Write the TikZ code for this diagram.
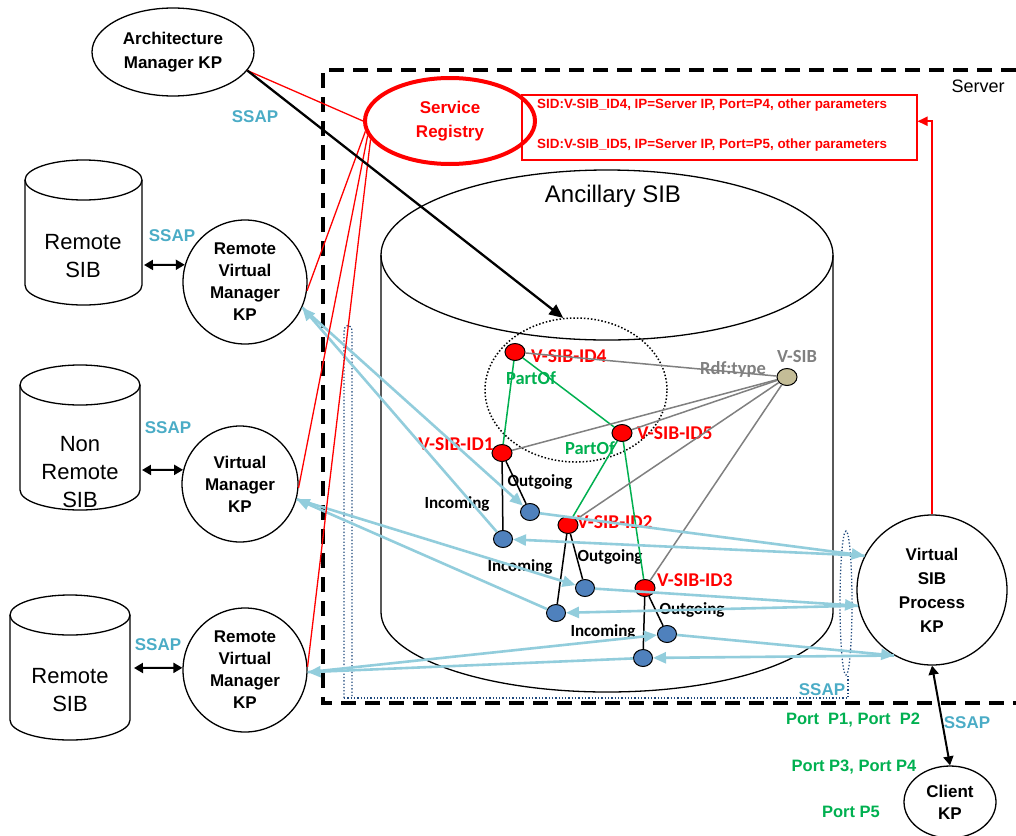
\documentclass[tikz,border=0pt]{standalone}
\usepackage{fontspec}
\setmainfont{Liberation Sans}
\newfontfamily\calfont{Carlito}
\usetikzlibrary{arrows.meta,shapes.geometric}
\definecolor{sred}{HTML}{FF0000}
\definecolor{lblue}{HTML}{92CDDC}
\definecolor{ssapc}{HTML}{4BACC6}
\definecolor{sgreen}{HTML}{00B050}
\definecolor{nblue}{HTML}{4F81BD}
\definecolor{tanc}{HTML}{C4BD97}
\definecolor{dotb}{HTML}{1F497D}
\definecolor{grayc}{HTML}{808080}
\tikzset{
 kp/.style={circle, draw, line width=1.3pt, align=center, inner sep=0pt, font=\fontsize{17}{22}\selectfont\bfseries},
 cyltext/.style={align=center, font=\fontsize{22}{28}\selectfont},
 ssap/.style={text=ssapc, font=\fontsize{17}{20}\selectfont\bfseries},
 port/.style={text=sgreen, font=\fontsize{16.5}{20}\selectfont\bfseries},
 lab/.style={inner sep=1pt, font=\calfont\fontsize{17}{20}\selectfont\bfseries},
 biglab/.style={inner sep=1pt, font=\calfont\fontsize{19.5}{22}\selectfont\bfseries},
 midlab/.style={inner sep=1pt, font=\calfont\fontsize{18.5}{22}\selectfont\bfseries},
 rnode/.style={ellipse, draw, line width=1pt, fill=sred, minimum width=20pt, minimum height=17pt, inner sep=0pt},
 bnode/.style={ellipse, draw, line width=1pt, fill=nblue, minimum width=19pt, minimum height=17pt, inner sep=0pt},
 barrow/.style={draw=lblue, line width=2.6pt, -{Triangle[length=13pt,width=11pt]}},
 dbl/.style={line width=2pt, {Triangle[length=9pt,width=10pt]}-{Triangle[length=9pt,width=10pt]}},
 cyl/.style={line width=1.3pt},
 dotline/.style={draw=dotb, line width=1.3pt, dotted},
 redline/.style={draw=sred, line width=1.3pt},
 greenline/.style={draw=sgreen, line width=1.5pt},
 grayline/.style={draw=grayc, line width=1.5pt},
 treeline/.style={draw=black, line width=1.5pt},
 regtext/.style={anchor=west, inner sep=0pt, text=sred, font=\fontsize{13.4}{15}\selectfont\bfseries},
}
\begin{document}
\begin{tikzpicture}[x=1pt,y=-1pt]
\useasboundingbox (0,0) rectangle (1016,835);

% server box
\draw[line width=3.5pt, dash pattern=on 15pt off 9pt] (1016,70) -- (323,70) -- (323,703) -- (1016,703);
\node[font=\fontsize{18}{20}\selectfont] (srv) at (978,86) {Server};

% ancillary cylinder
\draw[cyl, fill=white] (381,255) -- (381,612) arc[start angle=180, end angle=360, x radius=226pt, y radius=80pt] -- (833,255);
\draw[cyl] (607,255) ellipse[x radius=226pt, y radius=85pt];
\node[font=\fontsize{24}{28}\selectfont] (anc) at (613,196) {Ancillary SIB};

% blue dotted SSAP outline
\draw[dotline] (344,698) -- (344,332) .. controls (344,323) and (352,323) .. (352,332) -- (352,698);
\draw[dotline] (344,698) -- (848,698) -- (848,675);
\draw[dotline] (846,603) ellipse[x radius=6pt, y radius=72pt];
\node[ssap] (ssapr) at (822,690) {SSAP};

% left cylinders
\draw[cyl] (25,180) -- (25,285) arc[start angle=180,end angle=360,x radius=58.5pt,y radius=20pt] -- (142,180);
\draw[cyl] (83.5,180) ellipse[x radius=58.5pt,y radius=20pt];
\node[cyltext] (rs1) at (83,256) {Remote\\SIB};
\draw[cyl] (20,385) -- (20,490) arc[start angle=180,end angle=360,x radius=60pt,y radius=20pt] -- (140,385);
\draw[cyl] (80,385) ellipse[x radius=60pt,y radius=20pt];
\node[cyltext] (nrs) at (80,472) {Non\\Remote\\SIB};
\draw[cyl] (10,615) -- (10,720) arc[start angle=180,end angle=360,x radius=60pt,y radius=20pt] -- (130,615);
\draw[cyl] (70,615) ellipse[x radius=60pt,y radius=20pt];
\node[cyltext] (rs3) at (70,690) {Remote\\SIB};

% KP nodes
\node[kp, minimum size=124pt] (rvm1) at (245,282) {Remote\\Virtual\\Manager\\KP};
\node[kp, minimum size=116pt] (vm) at (240,484) {Virtual\\Manager\\KP};
\node[kp, minimum size=124pt] (rvm2) at (245,670) {Remote\\Virtual\\Manager\\KP};
\node[kp, minimum size=150pt, font=\fontsize{17}{24}\selectfont\bfseries] (vsp) at (932,590) {Virtual\\SIB\\Process\\KP};
\node[ellipse, draw, line width=1.3pt, align=center, inner sep=0pt, minimum width=92pt, minimum height=72pt, font=\fontsize{17}{22}\selectfont\bfseries] (client) at (950,802) {Client\\KP};
\node[ellipse, draw, line width=1.3pt, align=center, inner sep=0pt, minimum width=162pt, minimum height=88pt, font=\fontsize{17}{24}\selectfont\bfseries] (arch) at (173,52) {Architecture\\Manager KP};
\node[ellipse, draw=sred, line width=4pt, align=center, inner sep=0pt, minimum width=170pt, minimum height=86pt, text=sred, font=\fontsize{17}{24}\selectfont\bfseries] (sr) at (450,121) {Service\\Registry};

% registry table
\node[draw=sred, line width=1.5pt, minimum width=395pt, minimum height=65pt, anchor=north west, inner sep=0pt] (reg) at (521,94) {};
\node[regtext] (reg1) at (537,105) {SID:V-SIB\_ID4, IP=Server IP, Port=P4, other parameters};
\node[regtext] (reg2) at (537,145) {SID:V-SIB\_ID5, IP=Server IP, Port=P5, other parameters};

% SSAP labels
\node[ssap] (ssap0) at (255,117) {SSAP};
\node[ssap] (ssap1) at (172,236) {SSAP};
\node[ssap] (ssap2) at (168,428) {SSAP};
\node[ssap] (ssap3) at (158,645) {SSAP};
\node[ssap] (ssap4) at (967,723) {SSAP};

% ports
\node[port] (p12) at (853,720) {Port\ \ P1, Port\ \ P2};
\node[port] (p34) at (854,767) {Port P3, Port P4};
\node[port] (p5) at (851,812) {Port P5};

% dotted group ellipse
\node[ellipse, draw, dotted, line width=1.5pt, minimum width=182pt, minimum height=144pt] (grp) at (576,390) {};

% graph nodes
\node[rnode] (id4) at (515,352) {};
\node[rnode] (id5) at (622,433) {};
\node[rnode] (id1) at (502,453) {};
\node[rnode] (id2) at (568,525) {};
\node[rnode] (id3) at (645,588) {};
\node[ellipse, draw, line width=1pt, fill=tanc, minimum width=20pt, minimum height=17pt, inner sep=0pt] (vsib) at (787,377) {};
\node[bnode] (o1) at (530,512) {};
\node[bnode] (i1) at (503,539) {};
\node[bnode] (o2) at (585,588) {};
\node[bnode] (i2) at (556,613) {};
\node[bnode] (o3) at (667,634) {};
\node[bnode] (i3) at (643,658) {};

% labels
\node[biglab, text=sred, anchor=west] (l4) at (530,356) {V-SIB-ID4};
\node[biglab, text=sred, anchor=west] (l5) at (636,433) {V-SIB-ID5};
\node[biglab, text=sred, anchor=east] (l1) at (495,444) {V-SIB-ID1};
\node[biglab, text=sred, anchor=west] (l2) at (576,522) {V-SIB-ID2};
\node[biglab, text=sred, anchor=west] (l3) at (656,580) {V-SIB-ID3};
\node[midlab, text=grayc] (lv) at (797,356) {V-SIB};
\node[midlab, text=grayc] (lrdf) at (733,369) {Rdf:type};
\node[midlab, text=sgreen] (po1) at (531,378) {PartOf};
\node[midlab, text=sgreen] (po2) at (590,448) {PartOf};
\node[lab] (og1) at (540,482) {Outgoing};
\node[lab] (in1) at (457,504) {Incoming};
\node[lab] (og2) at (610,557) {Outgoing};
\node[lab] (in2) at (520,567) {Incoming};
\node[lab] (og3) at (692,610) {Outgoing};
\node[lab] (in3) at (603,632) {Incoming};

% green PartOf lines
\draw[greenline] (id4) -- (id1);
\draw[greenline] (id4) -- (id5);
\draw[greenline] (id5) -- (id2);
\draw[greenline] (id5) -- (id3);
% gray rdf:type lines
\draw[grayline] (vsib) -- (id4);
\draw[grayline] (vsib) -- (id1);
\draw[grayline] (vsib) -- (id5);
\draw[grayline] (vsib) -- (id2);
\draw[grayline] (vsib) -- (id3);
% tree lines
\draw[treeline] (id1) -- (o1);
\draw[treeline] (id1) -- (i1);
\draw[treeline] (id2) -- (o2);
\draw[treeline] (id2) -- (i2);
\draw[treeline] (id3) -- (o3);
\draw[treeline] (id3) -- (i3);

% blue SSAP arrows
\draw[barrow] (rvm1.-24) -- (o1);
\draw[barrow] (i1) -- (rvm1.-24);
\draw[barrow] (vm.-15) -- (o2);
\draw[barrow] (i2) -- (vm.-15);
\draw[barrow] (rvm2.-2) -- (o3);
\draw[barrow] (i3) -- (rvm2.-2);
\draw[barrow] (o1) -- (vsp.153);
\draw[barrow] (vsp.153) -- (i1);
\draw[barrow] (o2) -- (vsp.192);
\draw[barrow] (vsp.192) -- (i2);
\draw[barrow] (o3) -- (vsp.240);
\draw[barrow] (vsp.240) -- (i3);

% red registry lines
\draw[redline] (arch.-14) -- (sr.west);
\draw[redline] (sr.187) -- (rvm1.-8);
\draw[redline] (sr.190) -- (vm.-4);
\draw[redline] (sr.193) -- (rvm2.3);
\draw[sred, line width=2.2pt, -{Triangle[length=10pt,width=9pt]}] (vsp.north) |- ([yshift=6pt]reg.east);

% architecture arrow
\draw[line width=2.3pt, -{Triangle[length=14pt,width=12pt]}] (arch.-14) -- (grp.100);

% double arrows
\coordinate (rs1e) at (144,265);
\coordinate (nrse) at (142,470);
\coordinate (rs3e) at (134,668);
\draw[dbl] (rs1e) -- (rvm1.164);
\draw[dbl] (nrse) -- (vm.166);
\draw[dbl] (rs3e) -- (rvm2.178);
\draw[dbl] (vsp.south) -- (client.north);
\end{tikzpicture}
\end{document}
